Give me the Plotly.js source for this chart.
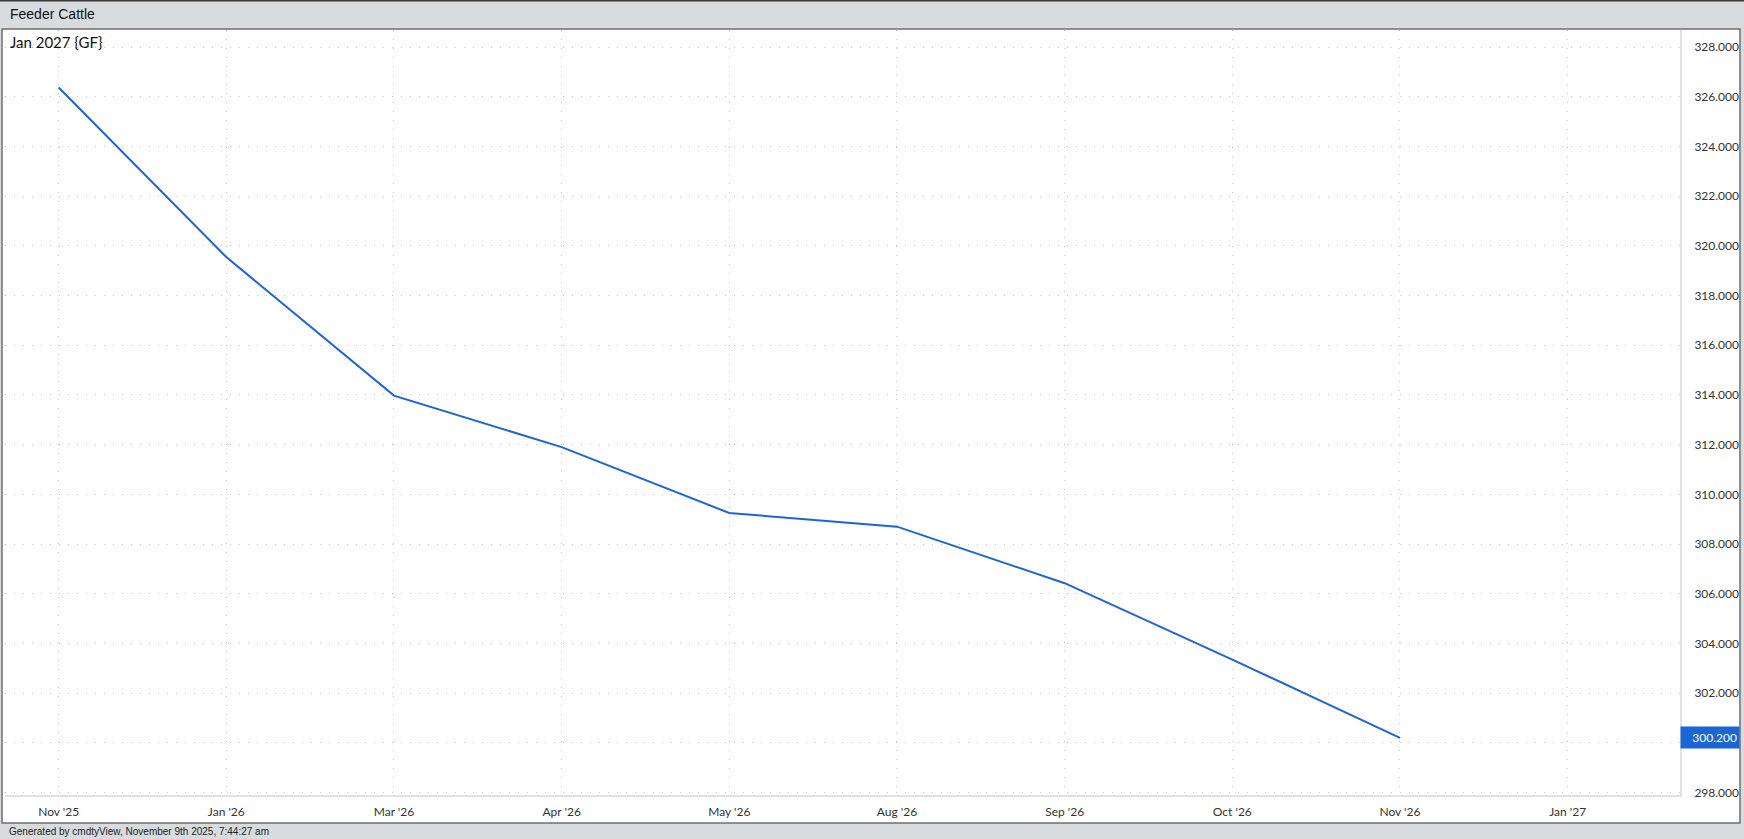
<!DOCTYPE html>
<html>
<head>
<meta charset="utf-8">
<script src="https://cdn.plot.ly/plotly-3.0.1.min.js"></script>
<style>
  html, body { margin: 0; padding: 0; background: #d8dcdf; }
  #chart { width: 1744px; height: 839px; }
</style>
</head>
<body>
<div id="chart"></div>
<script>
// Data (Feeder Cattle forward curve)
const categories = ["Nov '25", "Jan '26", "Mar '26", "Apr '26", "May '26", "Aug '26", "Sep '26", "Oct '26", "Nov '26", "Jan '27"];
const contractMonths = ["Nov '25", "Jan '26", "Mar '26", "Apr '26", "May '26", "Aug '26", "Sep '26", "Oct '26", "Nov '26"];
const settlePrices = [326.375, 319.55, 313.975, 311.9, 309.25, 308.7, 306.425, 303.35, 300.2];
const yTickVals = [298, 300, 302, 304, 306, 308, 310, 312, 314, 316, 318, 320, 322, 324, 326, 328];
const headerTitle = "Feeder Cattle";
const seriesLabel = "Jan 2027 {GF}";
const footerText = "Generated by cmdtyView, November 9th 2025, 7:44:27 am";
const lastValue = settlePrices[settlePrices.length - 1];

const lineColor = "#1c64d8";

const trace = {
  type: "scatter",
  mode: "lines",
  x: contractMonths,
  y: settlePrices,
  line: { color: lineColor, width: 2 },
  hoverinfo: "skip",
  showlegend: false
};

// tick label text; the label hidden under the last-value badge is left blank
const yTickText = yTickVals.map(v => Math.abs(v - lastValue) < 1 ? "" : v.toFixed(3));

// pixel helpers for paper coords (plot area: x 5..1680, y 30..795)
const L = 5, R = 1680, T = 30, B = 795;
const px = p => (p - L) / (R - L);
const py = p => (B - p) / (B - T);

const gridDash = "1px,8px";

const layout = {
  width: 1744,
  height: 839,
  margin: { l: L, r: 1744 - R, t: T, b: 839 - B, pad: 0 },
  paper_bgcolor: "#d8dcdf",
  plot_bgcolor: "rgba(0,0,0,0)",
  showlegend: false,
  hovermode: false,
  font: { family: "Lato, 'Open Sans', sans-serif", size: 12, color: "#333333" },
  xaxis: {
    type: "category",
    categoryorder: "array",
    categoryarray: categories,
    range: [-0.32, 9.67],
    showgrid: true,
    gridcolor: "#c4c4c4",
    griddash: gridDash,
    gridwidth: 1,
    showline: true,
    linecolor: "#e2e2e2",
    linewidth: 2,
    ticks: "",
    zeroline: false,
    fixedrange: true,
    tickfont: { family: "Lato, sans-serif", size: 12, color: "#333333" },
    ticklabelstandoff: 5
  },
  yaxis: {
    side: "right",
    range: [297.9, 328.69],
    tickvals: yTickVals,
    ticktext: yTickText,
    showgrid: true,
    gridcolor: "#c4c4c4",
    griddash: gridDash,
    gridwidth: 1,
    showline: true,
    linecolor: "#e2e2e2",
    linewidth: 2,
    ticks: "",
    zeroline: false,
    fixedrange: true,
    tickfont: { family: "Lato, sans-serif", size: 12, color: "#333333" },
    ticklabelstandoff: 10
  },
  shapes: [
    // white chart frame
    {
      type: "rect", xref: "paper", yref: "paper", layer: "below",
      x0: px(2), x1: px(1740), y0: py(823), y1: py(29),
      fillcolor: "#ffffff", line: { color: "#6f6f6f", width: 1.5 }
    },
    // dark top line of the page
    {
      type: "line", xref: "paper", yref: "paper", layer: "above",
      x0: px(0), x1: px(1744), y0: py(0.5), y1: py(0.5),
      line: { color: "#3a3a3a", width: 2 }
    },
    // clip the lowest y tick label like the reference
    {
      type: "rect", xref: "paper", yref: "paper", layer: "above",
      x0: px(1682), x1: px(1738), y0: py(822), y1: py(797),
      fillcolor: "#ffffff", line: { width: 0 }
    }
  ],
  annotations: [
    {
      text: headerTitle, xref: "paper", yref: "paper",
      x: px(8), y: py(14), xanchor: "left", yanchor: "middle", showarrow: false,
      font: { family: "Arial, 'Liberation Sans', sans-serif", size: 14, color: "#111111" }
    },
    {
      text: seriesLabel, xref: "paper", yref: "paper",
      x: px(8), y: py(42), xanchor: "left", yanchor: "middle", showarrow: false,
      font: { family: "Lato, sans-serif", size: 15, color: "#111111" }
    },
    {
      text: footerText, xref: "paper", yref: "paper",
      x: px(7), y: py(831), xanchor: "left", yanchor: "middle", showarrow: false,
      font: { family: "Arial, 'Liberation Sans', sans-serif", size: 10, color: "#222222" }
    },
    {
      text: lastValue.toFixed(3), xref: "paper", yref: "y",
      x: 1, y: lastValue, xanchor: "left", yanchor: "middle", showarrow: false,
      bgcolor: "#1b66d6", width: 54, height: 17, borderpad: 2, align: "right",
      font: { family: "Lato, sans-serif", size: 12, color: "#ffffff" }
    }
  ]
};

Plotly.newPlot("chart", [trace], layout, { displayModeBar: false, staticPlot: true });
</script>
</body>
</html>
